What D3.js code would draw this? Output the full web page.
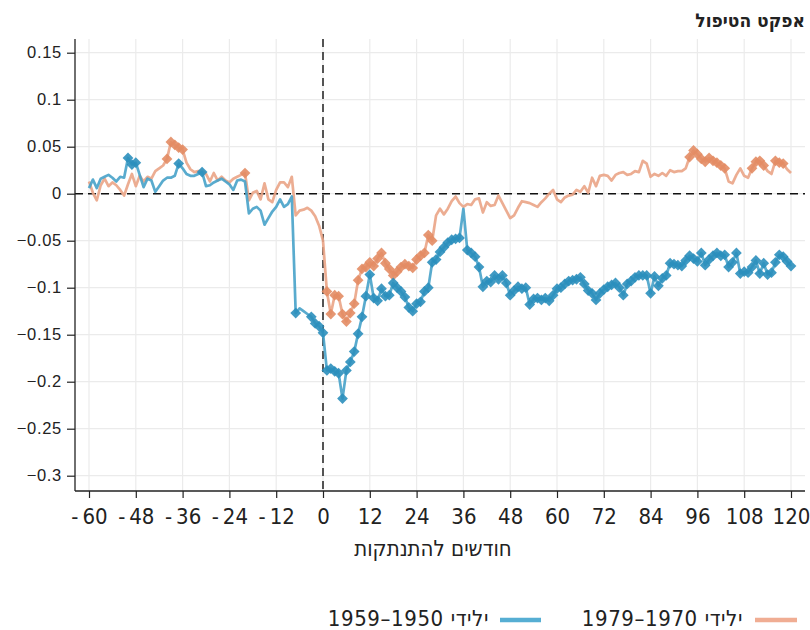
<!DOCTYPE html>
<html lang="he">
<head>
<meta charset="UTF-8">
<script src="https://d3js.org/d3.v7.min.js"></script>
<title>אפקט הטיפול</title>
<style>
  body { margin: 0; background: white; }
  .narrow { font-family: "Liberation Sans Narrow", "DejaVu Sans Condensed", sans-serif; }
</style>
</head>
<body>
<div id="chart"></div>
<script>
// months relative to the disengagement
const months = d3.range(-60, 121);

// born 1950-1959 (blue)
const blueVals = [
  0.006, 0.015, 0.006, 0.016, 0.018, 0.020, 0.017, 0.013, 0.018, 0.017, 0.038, 0.031,
  0.033, 0.020, 0.007, 0.016, 0.014, 0.002, 0.008, 0.014, 0.017, 0.017, 0.019, 0.032,
  0.027, 0.021, 0.019, 0.019, 0.021, 0.023, 0.008, 0.009, 0.012, 0.014, 0.016, 0.013,
  0.010, 0.004, 0.014, 0.015, 0.013, -0.021, -0.016, -0.014, -0.018, -0.033, -0.026, -0.019,
  -0.014, -0.006, -0.014, -0.011, -0.003, -0.127, -0.122, -0.125, -0.128, -0.131, -0.138, -0.141,
  -0.148, -0.188, -0.186, -0.189, -0.191, -0.218, -0.188, -0.179, -0.168, -0.149, -0.131, -0.109,
  -0.086, -0.111, -0.114, -0.101, -0.109, -0.108, -0.095, -0.100, -0.104, -0.110, -0.121, -0.125,
  -0.117, -0.115, -0.104, -0.100, -0.073, -0.070, -0.062, -0.057, -0.052, -0.049, -0.048, -0.047,
  -0.016, -0.060, -0.063, -0.067, -0.078, -0.099, -0.093, -0.094, -0.087, -0.091, -0.087, -0.095,
  -0.108, -0.103, -0.099, -0.101, -0.100, -0.118, -0.112, -0.111, -0.113, -0.111, -0.114, -0.108,
  -0.101, -0.100, -0.096, -0.093, -0.092, -0.091, -0.089, -0.096, -0.103, -0.106, -0.113, -0.106,
  -0.102, -0.099, -0.097, -0.095, -0.100, -0.108, -0.096, -0.093, -0.089, -0.087, -0.087, -0.087,
  -0.106, -0.088, -0.098, -0.090, -0.087, -0.074, -0.075, -0.076, -0.077, -0.071, -0.066, -0.069,
  -0.072, -0.063, -0.076, -0.070, -0.066, -0.063, -0.066, -0.065, -0.078, -0.073, -0.063, -0.085,
  -0.083, -0.084, -0.078, -0.071, -0.085, -0.074, -0.086, -0.084, -0.073, -0.065, -0.067, -0.072,
  -0.077
];

// born 1970-1979 (orange)
const orangeVals = [
  0.013, 0.001, -0.007, 0.009, 0.016, 0.008, 0.012, 0.009, 0.004, -0.002, 0.010, 0.021,
  0.008, 0.019, 0.013, 0.018, 0.016, 0.024, 0.027, 0.030, 0.037, 0.055, 0.052, 0.049,
  0.047, 0.033, 0.026, 0.023, 0.024, 0.024, 0.021, 0.013, 0.022, 0.014, 0.018, 0.014,
  0.012, 0.016, 0.018, 0.020, 0.022, -0.007, 0.001, 0.003, -0.006, 0.011, -0.006, -0.009,
  0.004, 0.012, 0.012, 0.007, 0.018, -0.023, -0.018, -0.017, -0.015, -0.018, -0.024, -0.034,
  -0.050, -0.104, -0.128, -0.108, -0.109, -0.128, -0.136, -0.127, -0.117, -0.092, -0.080, -0.078,
  -0.073, -0.077, -0.069, -0.063, -0.074, -0.080, -0.087, -0.083, -0.078, -0.075, -0.077, -0.079,
  -0.070, -0.066, -0.063, -0.044, -0.050, -0.023, -0.016, -0.022, -0.016, -0.008, -0.003, -0.010,
  -0.014, -0.011, -0.012, -0.006, -0.005, -0.020, -0.009, -0.013, -0.012, -0.002, -0.010, -0.018,
  -0.026, -0.023, -0.015, -0.008, -0.009, -0.010, -0.012, -0.014, -0.009, -0.005, 0.000, 0.004,
  -0.006, -0.009, -0.004, -0.002, -0.001, 0.004, 0.002, 0.008, 0.001, 0.017, 0.008, 0.019,
  0.020, 0.019, 0.014, 0.020, 0.022, 0.023, 0.020, 0.021, 0.024, 0.023, 0.035, 0.032,
  0.018, 0.021, 0.019, 0.022, 0.019, 0.025, 0.023, 0.024, 0.024, 0.027, 0.039, 0.046,
  0.042, 0.037, 0.034, 0.038, 0.035, 0.033, 0.030, 0.027, 0.013, 0.011, 0.020, 0.027,
  0.019, 0.017, 0.027, 0.034, 0.035, 0.030, 0.024, 0.021, 0.035, 0.033, 0.032, 0.026,
  0.022
];

// month spans where the estimate is marked (diamonds)
const blueSigRanges = [[-50, -48], [-37, -37], [-31, -31], [-7, -7], [-3, 35], [37, 120]];
const orangeSigRanges = [[-40, -36], [-20, -20], [1, 28], [94, 103], [110, 113], [116, 118]];

const xTicks = d3.range(-60, 121, 12);
const yTicks = [0.15, 0.1, 0.05, 0, -0.05, -0.1, -0.15, -0.2, -0.25, -0.3];

const title = "אפקט הטיפול";
const xaxisname = "חודשים להתנתקות";
const blueName = "ילידי 1950–1959";
const orangeName = "ילידי 1970–1979";

const W = 810, H = 630;
const pLeft = 75, pRight = 805, pTop = 39, pBottom = 491;

var x = d3.scaleLinear().domain([-60, 120]).range([89, 791]);
var y = d3.scaleLinear().domain([-0.3, 0.15]).range([475.7, 52.7]);

var svg = d3.select("#chart").append("svg")
  .attr("width", W).attr("height", H)
  .style("font-family", "'Noto Sans', 'DejaVu Sans', sans-serif");

// grid
svg.append("g").selectAll("line").data(xTicks).enter().append("line")
  .attr("x1", d => x(d)).attr("x2", d => x(d))
  .attr("y1", pTop).attr("y2", pBottom)
  .attr("stroke", "#ebebeb").attr("stroke-width", 1.2);
svg.append("g").selectAll("line").data(yTicks).enter().append("line")
  .attr("x1", pLeft).attr("x2", pRight)
  .attr("y1", d => y(d)).attr("y2", d => y(d))
  .attr("stroke", "#ebebeb").attr("stroke-width", 1.2);

// reference lines
svg.append("line").attr("x1", pLeft).attr("x2", pRight)
  .attr("y1", y(0)).attr("y2", y(0))
  .attr("stroke", "#111").attr("stroke-width", 1.4).attr("stroke-dasharray", "8,5");
svg.append("line").attr("x1", x(0)).attr("x2", x(0))
  .attr("y1", pTop).attr("y2", pBottom)
  .attr("stroke", "#111").attr("stroke-width", 1.4).attr("stroke-dasharray", "8,5");

// axes
var yAxis = svg.append("g").attr("transform", "translate(" + pLeft + ",0)")
  .call(d3.axisLeft(y).tickValues(yTicks).tickSize(8).tickPadding(5)
    .tickFormat(d => d === 0 ? "0" : String(d).replace("-", "\u2212")));
yAxis.select(".domain").remove();
yAxis.selectAll("line").attr("stroke", "#222").attr("stroke-width", 1.2);
yAxis.selectAll("text").style("font-size", "16.5px").attr("fill", "#222")
  .style("letter-spacing", "0.7px");

var xAxis = svg.append("g").attr("transform", "translate(0," + pBottom + ")")
  .call(d3.axisBottom(x).tickValues(xTicks).tickSize(7).tickPadding(10)
    .tickFormat(d => d < 0 ? "-\u2009" + Math.abs(d) : String(d)));
xAxis.select(".domain").remove();
xAxis.selectAll("line").attr("stroke", "#222").attr("stroke-width", 1.2);
xAxis.selectAll("text").attr("class", "narrow").style("font-size", "22px")
  .attr("fill", "#222");

svg.append("line").attr("x1", pLeft).attr("x2", pLeft).attr("y1", pTop).attr("y2", pBottom)
  .attr("stroke", "#222").attr("stroke-width", 1.3);
svg.append("line").attr("x1", pLeft).attr("x2", pRight).attr("y1", pBottom).attr("y2", pBottom)
  .attr("stroke", "#222").attr("stroke-width", 1.3);

// series
function inRanges(m, ranges) {
  return ranges.some(r => m >= r[0] && m <= r[1]);
}
var series = [
  { vals: orangeVals, sig: orangeSigRanges, line: "#eaa486", mark: "#e38c64" },
  { vals: blueVals, sig: blueSigRanges, line: "#47a2c9", mark: "#2b8fbc" }
];
var line = d3.line().x(d => x(d.m)).y(d => y(d.v));
var diamond = d3.symbol().type(d3.symbolSquare).size(58);

series.forEach(function (s) {
  var pts = months.map((m, i) => ({ m: m, v: s.vals[i] }));
  svg.append("path").datum(pts)
    .attr("d", line).attr("fill", "none")
    .attr("stroke", s.line).attr("stroke-width", 2.7)
    .attr("stroke-linejoin", "round").attr("opacity", 0.9);
  svg.append("g").selectAll("path")
    .data(pts.filter(p => inRanges(p.m, s.sig)))
    .enter().append("path")
    .attr("d", diamond)
    .attr("transform", d => "translate(" + x(d.m) + "," + y(d.v) + ") rotate(45)")
    .attr("fill", s.mark).attr("opacity", 0.9);
});

// titles
svg.append("text").attr("class", "narrow")
  .attr("x", pRight).attr("y", 27)
  .attr("text-anchor", "end")
  .style("font-size", "19px").style("font-weight", "bold").attr("fill", "#222")
  .text(title);

svg.append("text").attr("class", "narrow")
  .attr("x", 433).attr("y", 556)
  .attr("text-anchor", "middle")
  .style("font-size", "22px").attr("fill", "#222")
  .text(xaxisname);

// legend
var legend = [
  { name: orangeName, color: "#f0ad93", x1: 755, x2: 797, tx: 743 },
  { name: blueName, color: "#56aed3", x1: 500, x2: 541, tx: 489 }
];
legend.forEach(function (l) {
  svg.append("line").attr("x1", l.x1).attr("x2", l.x2).attr("y1", 620).attr("y2", 620)
    .attr("stroke", l.color).attr("stroke-width", 4.5);
  svg.append("text").attr("class", "narrow")
    .attr("x", l.tx).attr("y", 626)
    .attr("direction", "rtl").attr("text-anchor", "start")
    .style("font-size", "22px").style("letter-spacing", "0.6px").attr("fill", "#222")
    .text(l.name);
});
</script>
</body>
</html>
